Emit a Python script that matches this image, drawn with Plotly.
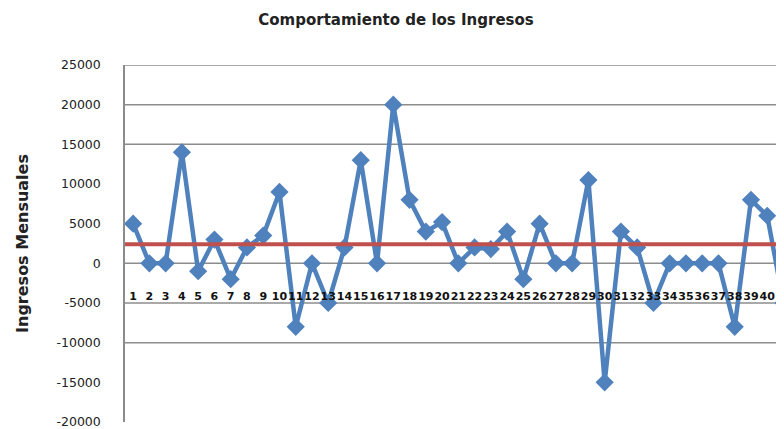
import plotly.graph_objects as go

titulo = "Comportamiento de los Ingresos"
eje_y_titulo = "Ingresos Mensuales"

periodos = list(range(1, 42))
ingresos = [5000, 0, 0, 14000, -1000, 3000, -2000, 2000, 3500, 9000,
            -8000, 0, -5000, 2000, 13000, 0, 20000, 8000, 4000, 5200,
            0, 2000, 1800, 4000, -2000, 5000, 0, 0, 10500, -15000,
            4000, 2000, -5000, 0, 0, 0, 0, -8000, 8000, 6000,
            -5000]
promedio = 2400

y_ticks = [-20000, -15000, -10000, -5000, 0, 5000, 10000, 15000, 20000, 25000]
y_ticktext = ["-20000", "-15000", "-10000", "-5000", "0", "5000", "10000", "15000", "20000", "25000"]
grid_vals = [25000, 20000, 15000, 0, -5000, -10000]
x_ticktext = [str(p) for p in periodos]

BLUE = "#4F81BD"
RED = "#C0504D"
GRID = "#8C8C8C"

fig = go.Figure()
for g in grid_vals:
    fig.add_hline(y=g, line=dict(color=GRID, width=1.5), layer="below")

fig.add_trace(go.Scatter(
    x=periodos, y=ingresos, mode="lines+markers",
    line=dict(color=BLUE, width=4.5),
    marker=dict(symbol="diamond", size=14, color=BLUE),
    showlegend=False,
))
fig.add_hline(y=promedio, line=dict(color=RED, width=4), layer="above")

fig.update_layout(
    width=776, height=421,
    margin=dict(l=117, r=0, t=57, b=7),
    paper_bgcolor="white", plot_bgcolor="white",
    title=dict(text=titulo, x=0.5, xanchor="center", y=0.9715, yanchor="middle",
               font=dict(family="DejaVu Sans", size=15, color="#222222", weight="bold")),
    xaxis=dict(
        range=[0.5, 41.03], tickmode="array", tickvals=periodos, ticktext=x_ticktext,
        tickangle=0, showgrid=False, zeroline=False, showline=False, ticks="",
        anchor="free", position=0.375,
        tickfont=dict(family="DejaVu Sans", size=11, color="#111111", weight="bold"),
    ),
    yaxis=dict(
        range=[-20000, 25000], tickmode="array", tickvals=y_ticks, ticktext=y_ticktext,
        showgrid=False, zeroline=False, showline=True, linecolor=GRID, linewidth=1.5,
        ticks="", ticklabelstandoff=20, ticklabeloverflow="allow",
        tickfont=dict(family="DejaVu Sans", size=12.5, color="#222222"),
        title=dict(text=eje_y_titulo, standoff=24,
                   font=dict(family="DejaVu Sans", size=16, color="#222222", weight="bold")),
    ),
)

fig.write_html("out.html")
